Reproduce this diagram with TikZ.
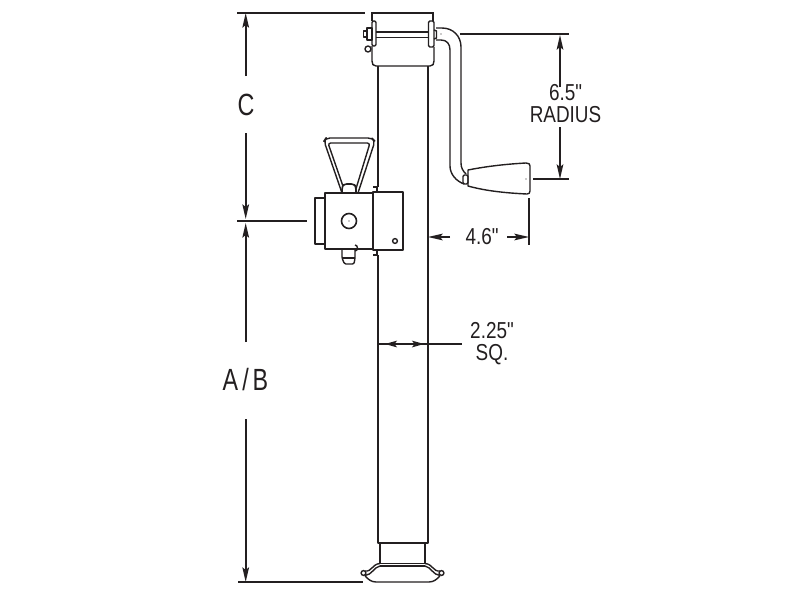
\documentclass[tikz,border=0pt]{standalone}
\usepackage{fontspec}
\newfontfamily\dimfont[FakeStretch=0.82]{Liberation Sans}
\newfontfamily\bigfont[FakeStretch=0.76]{Liberation Sans}
\usetikzlibrary{arrows.meta}
\usetikzlibrary{decorations.markings}
\definecolor{inkblack}{HTML}{231F20}

\tikzset{
	part/.style = {draw=inkblack, line width=1.05pt, line join=round},
	dimline/.style = {draw=inkblack, line width=1.2pt},
	dimtip/.style = {dimline, -{Stealth[length=11pt,width=5pt,inset=2pt]}},
	insettip/.style = {dimline, decoration={markings, mark=at position #1 with {\arrow{Stealth[length=9pt,width=5pt,inset=2pt]}}}, postaction={decorate}},
	biglabel/.style = {text=inkblack, font=\bigfont\fontsize{23}{24}\selectfont, inner sep=0pt},
	smalllabel/.style = {text=inkblack, font=\dimfont\fontsize{17.3}{16.5}\selectfont, inner sep=0pt, align=center}
}

\begin{document}
\begin{tikzpicture}[x=0.75pt, y=-0.75pt]
\useasboundingbox (0,0) rectangle (800,600);

% tube and foot
\draw[part] (378,66) -- (378,187);
\draw[part] (378,255) -- (378,543) -- (428,543) -- (428,66);
\draw[part] (380,543) -- (380,563);
\draw[part] (425,543) -- (425,563);
\draw[part] (380,563.5) -- (425,563.5);
\draw[part] (380,566) -- (425,566);
\draw[part] (380,563.5) .. controls (372,564) and (372,572) .. (365,571);
\draw[part] (425,563.5) .. controls (433,564) and (433,572) .. (440,571);
\draw[part] (380,566) .. controls (374,567) and (372,575) .. (365,575.5);
\draw[part] (425,566) .. controls (431,567) and (433,575) .. (440,575.5);
\draw[part] (363.5,573) circle (2.4);
\draw[part] (441.5,573) circle (2.4);
\draw[part] (365,576) .. controls (368,579) and (371,582) .. (376,582) -- (429,582) .. controls (434,582) and (437,579) .. (440,576);

% top collar
\draw[part] (371,13) -- (434,13);
\draw[part] (372,13) -- (372,21);
\draw[part] (433,13) -- (433,21);
\draw[part] (372,46) -- (372,61) .. controls (372,64) and (373,66) .. (376,66) -- (430,66) .. controls (433,66) and (434,64) .. (434,61) -- (434,47);
\draw[part] (376,32) -- (428,32);
\draw[part] (376,37.5) -- (428,37.5);
\draw[part, rounded corners=1pt] (372,21) rectangle (376,46);
\draw[part, rounded corners=1pt] (428.5,21) rectangle (434,47);
\draw[part] (367,28) rectangle (372,40);
\draw[part] (363.5,31) rectangle (367,37);
\draw[part] (368,49) circle (3);
\draw[part] (434,30) -- (436.5,31) -- (436.5,38) -- (434,39);

% crank
\draw[part] (436,28) -- (442,28) .. controls (453,28) and (461,36) .. (461,47) -- (461,163) .. controls (461,168) and (463,171) .. (466,174);
\draw[part] (436,40) -- (441,40) .. controls (447,40) and (450,44) .. (450,50) -- (450,166) .. controls (450,174) and (456,181) .. (464,184);
\draw[part, rounded corners=1pt] (463,175) rectangle (468,184);
\draw[part] (468,170) .. controls (488,166) and (508,164) .. (526,163) .. controls (529,163) and (530,164) .. (530,166) -- (530,191) .. controls (530,193) and (529,194) .. (527,194) .. controls (506,193) and (486,191) .. (468,186) -- cycle;
\fill[inkblack] (526,179) circle (0.7);
\fill[inkblack] (441,34) circle (0.7);

% winch box
\draw[part, rounded corners=3pt] (342,193) -- (324,141) -- (326,138) -- (372,138) -- (375,141) -- (358,193);
\draw[part, rounded corners=2pt] (345,192) -- (328,143) -- (370,143) -- (355,192);
\draw[part, fill=white, rounded corners=2pt, line width=1.2pt] (342,193) -- (342,187) -- (344,184) -- (354,184) -- (356,187) -- (356,193);
\draw[part] (373,187) -- (377,187) -- (377,192);
\draw[part] (373,255) -- (377,255) -- (377,250);
\draw[part, fill=white, line width=1.3pt] (325,193) rectangle (373,249);
\draw[part, fill=white] (373,192) rectangle (403,250);
\draw[part] (325,198) -- (315,198) -- (315,244) -- (325,244);
\draw[part, line width=1.2pt] (349,221) circle (7.5);
\fill[inkblack] (349,221) circle (0.7);
\draw[part] (395,241) circle (2.4);
\draw[part, rounded corners=1pt] (342,249) -- (342,258) -- (344.5,264) -- (354,264) -- (355,258) -- (355,249);
\draw[part] (342,258) -- (355,258);
\draw[part] (355,251) arc (-90:90:2.5 and -3);

% dimensions on the left
\node[biglabel] (labelC) at (246,105) {C};
\node[biglabel] (labelAB) at (245.5,380) {A\kern3pt/\kern3pt B};
\coordinate (cStart) at (237,13);
\coordinate (cEnd) at (365,13);
\coordinate (midStart) at (237,221);
\coordinate (midEnd) at (307,221);
\coordinate (abStart) at (238,582);
\coordinate (abEnd) at (363,582);
\coordinate (cTop) at (245.7,13);
\coordinate (cUp) at (245.7,76);
\coordinate (cDown) at (245.7,133);
\coordinate (cMid) at (245.7,219);
\coordinate (abMid) at (245.7,223);
\coordinate (abUp) at (245.7,342);
\coordinate (abDown) at (245.7,419);
\coordinate (abBottom) at (245.7,582);
\draw[dimline] (cStart) -- (cEnd);
\draw[dimline] (midStart) -- (midEnd);
\draw[dimline] (abStart) -- (abEnd);
\draw[dimtip] (cUp) -- (cTop);
\draw[dimtip] (cDown) -- (cMid);
\draw[dimtip] (abUp) -- (abMid);
\draw[dimtip] (abDown) -- (abBottom);

% dimensions on the right
\node[smalllabel] (labelRadius) at (565.5,104) {6.5"\\RADIUS};
\coordinate (radStart) at (460,34);
\coordinate (radEnd) at (569,34);
\coordinate (gripStart) at (533,179);
\coordinate (gripEnd) at (569,179);
\coordinate (radTop) at (560,35);
\coordinate (radUp) at (560,87);
\coordinate (radDown) at (560,127);
\coordinate (radBottom) at (560,179);
\draw[dimline] (radStart) -- (radEnd);
\draw[dimline] (gripStart) -- (gripEnd);
\draw[dimtip] (radUp) -- (radTop);
\draw[dimtip] (radDown) -- (radBottom);

\node[smalllabel] (labelCrank) at (482,237) {4.6"};
\coordinate (crankTube) at (428,237);
\coordinate (crankLeft) at (450,237);
\coordinate (crankRight) at (507,237);
\coordinate (crankEnd) at (529,237);
\coordinate (tickTop) at (529,198);
\coordinate (tickBottom) at (529,245);
\draw[dimline] (tickTop) -- (tickBottom);
\draw[dimtip] (crankLeft) -- (crankTube);
\draw[dimtip] (crankRight) -- (crankEnd);

\node[smalllabel] (labelSquare) at (492,344) {2.25"\\SQ.};
\coordinate (sqLeft) at (378,344);
\coordinate (sqMid) at (403,344);
\coordinate (sqRight) at (428,344);
\coordinate (sqEnd) at (462,344);
\draw[insettip=0.72] (sqMid) -- (sqLeft);
\draw[insettip=0.84] (sqMid) -- (sqRight);
\draw[dimline] (sqRight) -- (sqEnd);
\end{tikzpicture}
\end{document}
